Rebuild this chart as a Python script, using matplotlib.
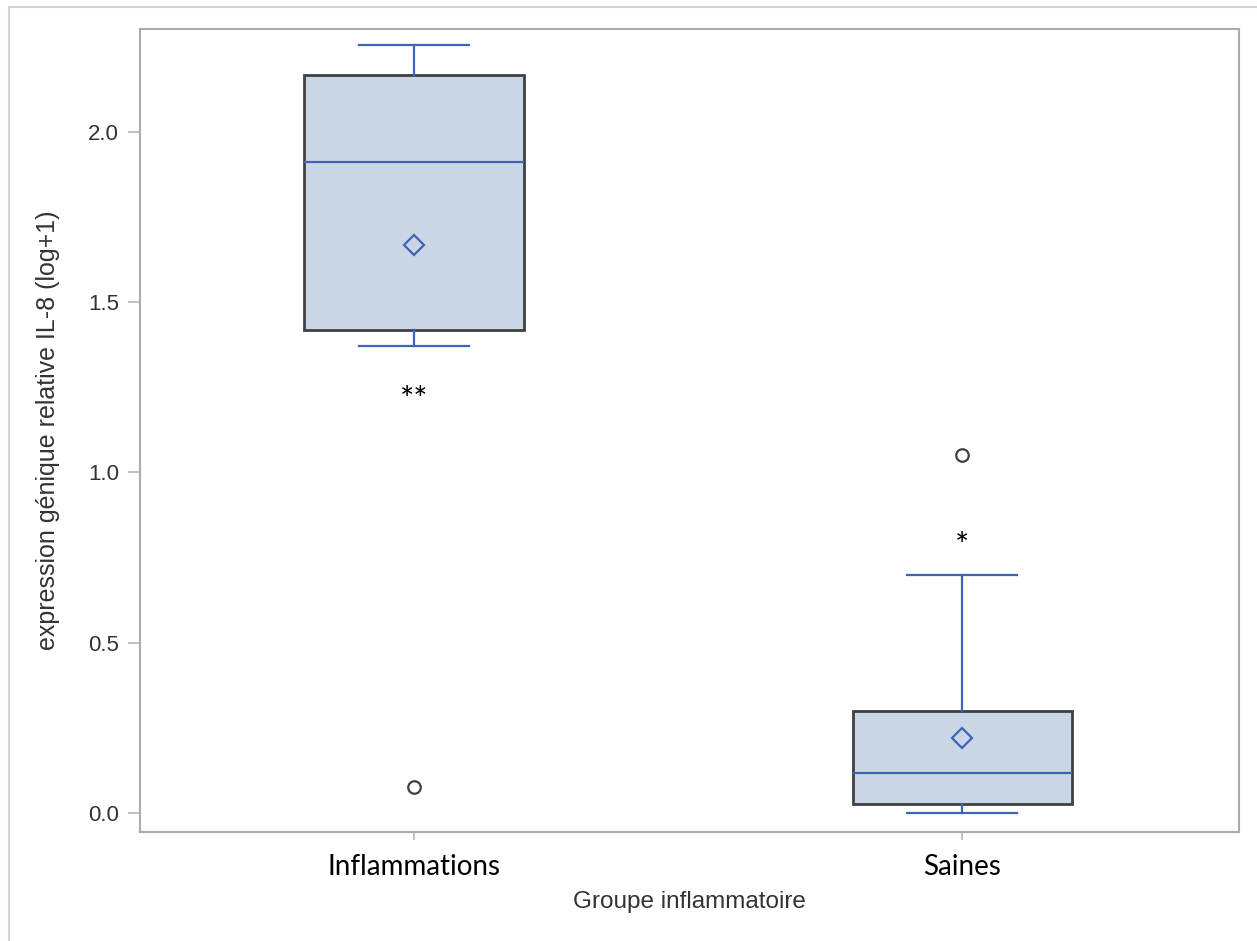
import numpy as np
import matplotlib.pyplot as plt
from matplotlib.lines import Line2D

# valeurs
groupes = ["Inflammations", "Saines"]
q1 = [1.418, 0.026]
mediane = [1.912, 0.119]
q3 = [2.166, 0.300]
moust_bas = [1.372, 0.0]
moust_haut = [2.254, 0.698]
moyenne = [1.666, 0.220]
aberrants = [[0.077], [1.051]]
etoiles = ["**", "*"]
y_etoiles = [1.183, 0.755]

bleu = "#3F63B8"
gris = "#404040"

stats = []
for i in range(len(groupes)):
    stats.append(dict(label=groupes[i], q1=q1[i], med=mediane[i], q3=q3[i],
                      whislo=moust_bas[i], whishi=moust_haut[i],
                      mean=moyenne[i], fliers=aberrants[i]))

fig = plt.figure(figsize=(12.57, 9.41), dpi=100)
ax = fig.add_axes([0.1114, 0.1158, 0.8743, 0.8537])

pos = np.arange(len(groupes))
ax.bxp(stats, positions=pos, widths=0.4, patch_artist=True, showmeans=True,
       boxprops=dict(facecolor="#CAD5E5", edgecolor=gris, linewidth=2),
       medianprops=dict(color=bleu, linewidth=1.6),
       whiskerprops=dict(color=bleu, linewidth=1.6),
       capprops=dict(color=bleu, linewidth=1.6),
       capwidths=0.2,
       meanprops=dict(marker="D", markersize=10, markerfacecolor="none",
                      markeredgecolor=bleu, markeredgewidth=1.6),
       flierprops=dict(marker="o", markersize=9, markerfacecolor="none",
                       markeredgecolor=gris, markeredgewidth=1.6))

for i in range(len(groupes)):
    ax.text(pos[i], y_etoiles[i], etoiles[i], ha="center", va="baseline",
            fontsize=24, family="Lato", color="black")

ax.set_xlim(-0.5, 1.505)
ax.set_ylim(-0.055, 2.302)
ax.set_yticks([0.0, 0.5, 1.0, 1.5, 2.0])
ax.set_yticklabels(["0.0", "0.5", "1.0", "1.5", "2.0"])
ax.set_xticks(pos)
ax.set_xticklabels(groupes, family="Lato", fontsize=20, color="black")

for s in ax.spines.values():
    s.set_color("#A8ACB0")
    s.set_linewidth(1.5)
ax.tick_params(axis="both", width=1.3, color="#B8BCC0")
ax.tick_params(axis="y", length=9, labelsize=16, labelcolor="#333333", pad=6)
ax.tick_params(axis="x", length=6, pad=10)
for t in ax.get_yticklabels():
    t.set_family("Liberation Sans")

ax.set_ylabel("expression génique relative IL-8 (log+1)", family="Liberation Sans",
              fontsize=18, color="#333333", labelpad=20)
ax.set_xlabel("Groupe inflammatoire", family="Liberation Sans", fontsize=17.5,
              color="#333333", labelpad=8)

# cadre gris clair autour de l'image
fig.add_artist(Line2D([9 / 1257, 9 / 1257], [0, 1 - 7 / 941], color="#D4D4D4", lw=1.5))
fig.add_artist(Line2D([9 / 1257, 1], [1 - 7 / 941, 1 - 7 / 941], color="#D4D4D4", lw=1.5))

fig.savefig("out.png", dpi=100)
